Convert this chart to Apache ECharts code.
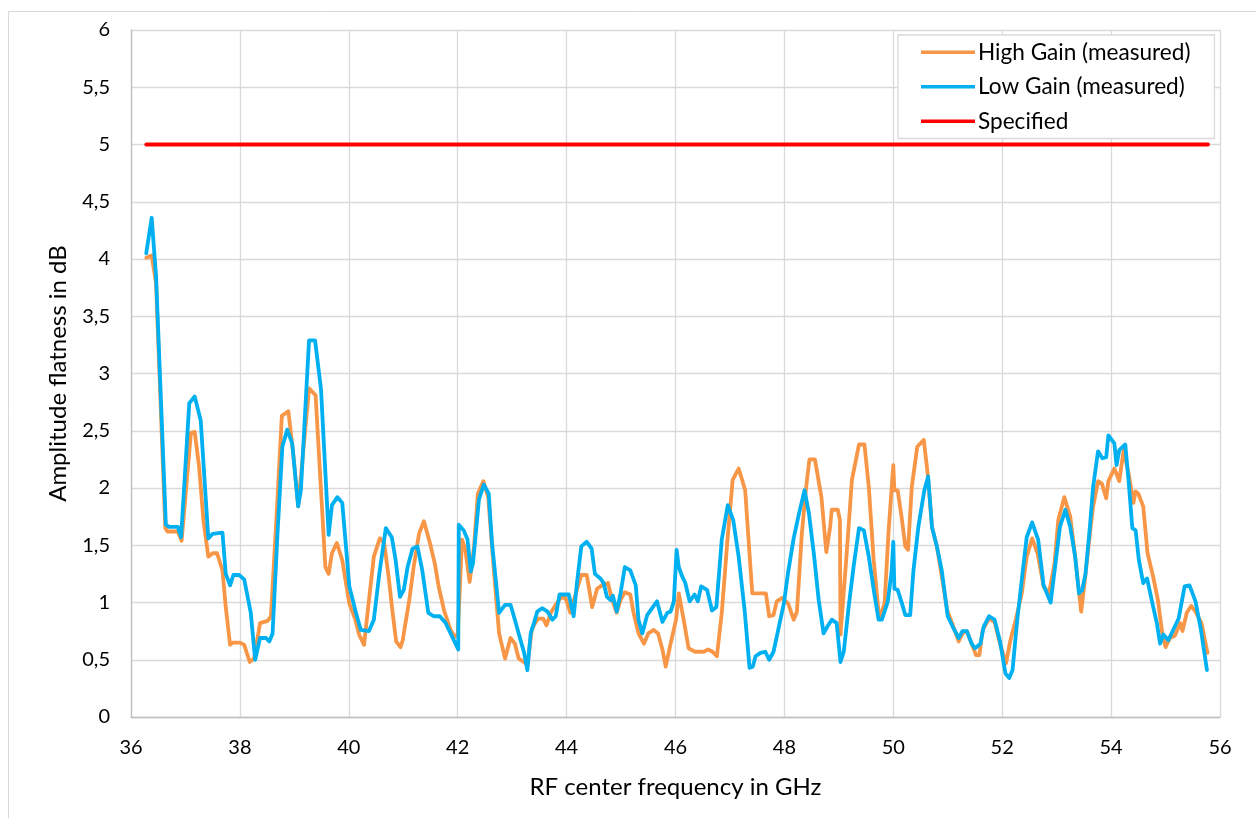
<!DOCTYPE html>
<html><head><meta charset="utf-8">
<script src="https://cdn.jsdelivr.net/npm/echarts@6/dist/echarts.min.js"></script>
<style>html,body{margin:0;padding:0;background:#fff}#c{width:1256px;height:818px}</style>
</head><body><div id="c"></div><script>
// [frequency GHz, flatness dB]
const highGain = [
[36.28,4.01],[36.38,4.03],[36.46,3.79],[36.63,1.65],[36.67,1.62],[36.86,1.62],[36.93,1.54],[37.10,2.48],[37.17,2.49],[37.25,2.19],
[37.33,1.72],[37.42,1.40],[37.50,1.43],[37.58,1.43],[37.68,1.28],[37.74,0.96],[37.82,0.63],[37.87,0.65],[38.00,0.65],[38.08,0.63],
[38.18,0.48],[38.26,0.51],[38.37,0.82],[38.51,0.84],[38.57,0.88],[38.69,1.90],[38.77,2.63],[38.89,2.67],[38.98,2.30],[39.07,1.84],
[39.27,2.87],[39.39,2.81],[39.57,1.31],[39.63,1.25],[39.69,1.43],[39.78,1.52],[39.88,1.37],[40.01,0.99],[40.12,0.85],[40.19,0.72],
[40.28,0.63],[40.37,1.02],[40.46,1.40],[40.57,1.56],[40.65,1.52],[40.73,1.23],[40.80,0.93],[40.87,0.66],[40.95,0.61],[40.99,0.67],
[41.11,1.02],[41.20,1.34],[41.29,1.60],[41.38,1.71],[41.49,1.52],[41.58,1.34],[41.65,1.14],[41.75,0.93],[41.87,0.76],[41.95,0.70],
[42.00,0.72],[42.08,1.55],[42.14,1.46],[42.22,1.18],[42.30,1.49],[42.37,1.95],[42.47,2.06],[42.56,1.92],[42.67,1.25],[42.76,0.73],
[42.87,0.51],[42.97,0.69],[43.05,0.64],[43.12,0.51],[43.22,0.48],[43.28,0.45],[43.36,0.76],[43.42,0.82],[43.48,0.86],[43.57,0.86],
[43.63,0.80],[43.71,0.91],[43.80,0.98],[43.89,1.04],[43.98,1.04],[44.07,0.91],[44.17,1.08],[44.27,1.24],[44.37,1.24],[44.47,0.96],
[44.56,1.12],[44.65,1.15],[44.76,1.17],[44.82,1.05],[44.92,0.91],[44.99,1.02],[45.07,1.09],[45.17,1.07],[45.23,0.91],[45.32,0.73],
[45.42,0.64],[45.50,0.73],[45.60,0.76],[45.68,0.73],[45.76,0.59],[45.82,0.44],[45.91,0.64],[46.01,0.85],[46.06,1.08],[46.15,0.85],
[46.24,0.60],[46.36,0.57],[46.52,0.57],[46.60,0.59],[46.68,0.57],[46.76,0.53],[46.85,0.91],[46.95,1.52],[47.05,2.07],[47.16,2.17],
[47.28,1.98],[47.35,1.49],[47.41,1.08],[47.53,1.08],[47.66,1.08],[47.72,0.88],[47.80,0.89],[47.86,1.01],[47.96,1.04],[48.07,0.99],
[48.17,0.85],[48.23,0.92],[48.32,1.60],[48.40,2.01],[48.46,2.25],[48.56,2.25],[48.68,1.92],[48.77,1.44],[48.84,1.66],[48.87,1.81],
[48.98,1.81],[49.02,1.72],[49.03,0.72],[49.14,1.40],[49.24,2.07],[49.37,2.38],[49.47,2.38],[49.55,2.01],[49.64,1.37],[49.74,0.86],
[49.84,0.99],[49.91,1.60],[49.97,2.00],[50.00,2.20],[50.02,1.98],[50.08,1.98],[50.16,1.72],[50.22,1.49],[50.27,1.46],[50.34,2.01],
[50.44,2.36],[50.56,2.42],[50.63,2.13],[50.71,1.66],[50.80,1.49],[50.89,1.23],[50.99,0.93],[51.08,0.82],[51.20,0.66],[51.27,0.73],
[51.35,0.75],[51.44,0.64],[51.52,0.54],[51.58,0.54],[51.64,0.76],[51.76,0.86],[51.86,0.83],[51.96,0.64],[52.07,0.47],[52.15,0.67],
[52.25,0.85],[52.36,1.08],[52.45,1.40],[52.55,1.56],[52.65,1.43],[52.76,1.14],[52.86,1.08],[52.96,1.34],[53.03,1.72],[53.14,1.92],
[53.25,1.75],[53.34,1.40],[53.45,0.92],[53.52,1.20],[53.61,1.60],[53.67,1.84],[53.76,2.06],[53.83,2.04],[53.91,1.91],[53.95,2.06],
[54.06,2.17],[54.15,2.06],[54.23,2.33],[54.32,2.13],[54.41,1.87],[54.45,1.97],[54.50,1.95],[54.59,1.84],[54.67,1.43],[54.77,1.23],
[54.86,1.02],[54.94,0.73],[55.00,0.61],[55.08,0.69],[55.17,0.71],[55.27,0.82],[55.31,0.75],[55.39,0.91],[55.47,0.97],[55.55,0.92],
[55.66,0.82],[55.77,0.56]
];
const lowGain = [
[36.28,4.05],[36.38,4.36],[36.46,3.85],[36.64,1.68],[36.70,1.66],[36.86,1.66],[36.92,1.57],[37.07,2.74],[37.17,2.80],[37.28,2.59],
[37.42,1.56],[37.50,1.60],[37.68,1.61],[37.74,1.25],[37.82,1.15],[37.88,1.24],[37.99,1.24],[38.08,1.20],[38.20,0.91],[38.28,0.50],
[38.37,0.69],[38.48,0.69],[38.54,0.66],[38.60,0.73],[38.69,1.60],[38.78,2.36],[38.87,2.51],[38.96,2.39],[39.07,1.84],[39.12,1.98],
[39.27,3.29],[39.38,3.29],[39.49,2.86],[39.63,1.59],[39.69,1.85],[39.79,1.92],[39.88,1.87],[40.01,1.14],[40.12,0.93],[40.22,0.76],
[40.37,0.75],[40.46,0.85],[40.56,1.25],[40.68,1.65],[40.79,1.57],[40.86,1.37],[40.94,1.05],[41.01,1.11],[41.08,1.31],[41.17,1.47],
[41.26,1.49],[41.35,1.28],[41.46,0.91],[41.56,0.88],[41.67,0.88],[41.78,0.82],[41.90,0.70],[42.01,0.59],[42.02,1.68],[42.11,1.63],
[42.18,1.55],[42.24,1.27],[42.28,1.34],[42.39,1.90],[42.48,2.03],[42.57,1.95],[42.63,1.52],[42.76,0.91],[42.87,0.98],[42.97,0.98],
[43.05,0.85],[43.12,0.73],[43.22,0.56],[43.28,0.41],[43.34,0.73],[43.40,0.82],[43.46,0.92],[43.55,0.95],[43.65,0.92],[43.74,0.85],
[43.80,0.88],[43.87,1.07],[44.04,1.07],[44.13,0.88],[44.19,1.17],[44.27,1.49],[44.37,1.53],[44.46,1.47],[44.52,1.25],[44.62,1.21],
[44.68,1.17],[44.74,1.05],[44.81,1.02],[44.85,1.06],[44.92,0.92],[44.99,1.08],[45.07,1.31],[45.17,1.28],[45.27,1.15],[45.32,0.85],
[45.39,0.73],[45.48,0.89],[45.57,0.95],[45.66,1.01],[45.76,0.83],[45.85,0.91],[45.91,0.92],[45.97,1.01],[46.02,1.46],[46.06,1.31],
[46.12,1.23],[46.18,1.17],[46.26,1.01],[46.35,1.07],[46.41,1.01],[46.47,1.14],[46.58,1.11],[46.67,0.93],[46.75,0.96],[46.85,1.55],
[46.96,1.85],[47.06,1.72],[47.16,1.40],[47.27,0.93],[47.36,0.43],[47.42,0.44],[47.47,0.53],[47.56,0.56],[47.65,0.57],[47.72,0.50],
[47.80,0.57],[47.89,0.77],[47.99,0.99],[48.07,1.27],[48.17,1.56],[48.27,1.78],[48.37,1.98],[48.45,1.78],[48.54,1.43],[48.63,1.02],
[48.72,0.73],[48.79,0.79],[48.87,0.85],[48.96,0.82],[49.03,0.48],[49.09,0.57],[49.18,0.96],[49.27,1.31],[49.37,1.65],[49.46,1.63],
[49.55,1.40],[49.65,1.08],[49.73,0.85],[49.79,0.85],[49.90,1.01],[49.97,1.28],[50.00,1.53],[50.02,1.12],[50.08,1.11],[50.16,0.99],
[50.22,0.89],[50.31,0.89],[50.37,1.28],[50.46,1.66],[50.57,1.98],[50.64,2.10],[50.71,1.66],[50.80,1.49],[50.89,1.28],[51.00,0.88],
[51.09,0.79],[51.20,0.69],[51.27,0.75],[51.35,0.75],[51.44,0.64],[51.50,0.60],[51.60,0.64],[51.66,0.79],[51.76,0.88],[51.86,0.85],
[51.96,0.66],[52.06,0.38],[52.13,0.34],[52.19,0.41],[52.27,0.82],[52.36,1.20],[52.45,1.57],[52.55,1.70],[52.66,1.55],[52.76,1.15],
[52.89,1.00],[52.97,1.31],[53.06,1.66],[53.16,1.81],[53.25,1.66],[53.34,1.40],[53.41,1.08],[53.47,1.11],[53.53,1.25],[53.61,1.66],
[53.67,2.01],[53.76,2.32],[53.84,2.26],[53.91,2.27],[53.95,2.46],[54.06,2.39],[54.10,2.20],[54.15,2.33],[54.26,2.38],[54.32,2.07],
[54.39,1.65],[54.45,1.63],[54.51,1.37],[54.59,1.17],[54.66,1.21],[54.76,0.99],[54.84,0.82],[54.90,0.64],[54.96,0.72],[55.05,0.67],
[55.14,0.76],[55.24,0.86],[55.35,1.14],[55.44,1.15],[55.55,1.01],[55.65,0.76],[55.76,0.41]
];
const specified = [[36.28,5],[55.78,5]];
const seriesNames = ['High Gain (measured)','Low Gain (measured)','Specified'];
const xName = 'RF center frequency in GHz';
const yName = 'Amplitude flatness in dB';

const FONT = 'Lato';
const chart = echarts.init(document.getElementById('c'), null, {renderer:'canvas'});
const grid = '#D9D9D9';
const lineBase = {width:3.8,cap:'round',join:'round'};
chart.setOption({
  animation:false,
  backgroundColor:'#fff',
  textStyle:{fontFamily:FONT,color:'#000'},
  graphic:[{type:'rect',shape:{x:8.5,y:11.5,width:1270,height:830},style:{fill:'none',stroke:'#D9D9D9',lineWidth:1},silent:true}],
  grid:{left:131,right:36,top:30,bottom:101},
  legend:{
    left:898, top:35, orient:'vertical', icon:'rect', itemWidth:54, itemHeight:3.5, itemGap:0,
    padding:[0,24,0,23], borderColor:'#D9D9D9', borderWidth:1.3, backgroundColor:'#fff',
    textStyle:{fontFamily:FONT,fontSize:22.6,color:'#000',lineHeight:34.5,padding:[0,0,0,-2]},
    data:seriesNames
  },
  xAxis:{type:'value',min:36,max:56,interval:2,
    name:xName,nameLocation:'middle',nameGap:58,nameTextStyle:{fontFamily:FONT,fontSize:24,color:'#000'},
    axisLine:{lineStyle:{color:'#BFBFBF',width:1.3}},axisTick:{show:false},
    axisLabel:{fontFamily:FONT,fontSize:20,color:'#000',margin:21},
    splitLine:{lineStyle:{color:grid,width:1.3}}},
  yAxis:{type:'value',min:0,max:6,interval:0.5,
    name:yName,nameLocation:'middle',nameGap:61,nameTextStyle:{fontFamily:FONT,fontSize:24,color:'#000'},
    axisLine:{show:true,lineStyle:{color:'#BFBFBF',width:1.3}},axisTick:{show:false},
    axisLabel:{fontFamily:FONT,fontSize:20,color:'#000',margin:21,formatter:v=>String(v).replace('.',',')},
    splitLine:{lineStyle:{color:grid,width:1.3}}},
  series:[
    {name:seriesNames[0],type:'line',data:highGain,symbol:'none',lineStyle:Object.assign({color:'#F79646'},lineBase),itemStyle:{color:'#F79646'}},
    {name:seriesNames[1],type:'line',data:lowGain,symbol:'none',lineStyle:Object.assign({color:'#00B0F0'},lineBase),itemStyle:{color:'#00B0F0'}},
    {name:seriesNames[2],type:'line',data:specified,symbol:'none',lineStyle:Object.assign({color:'#FF0000'},lineBase),itemStyle:{color:'#FF0000'}}
  ]
});
</script></body></html>
